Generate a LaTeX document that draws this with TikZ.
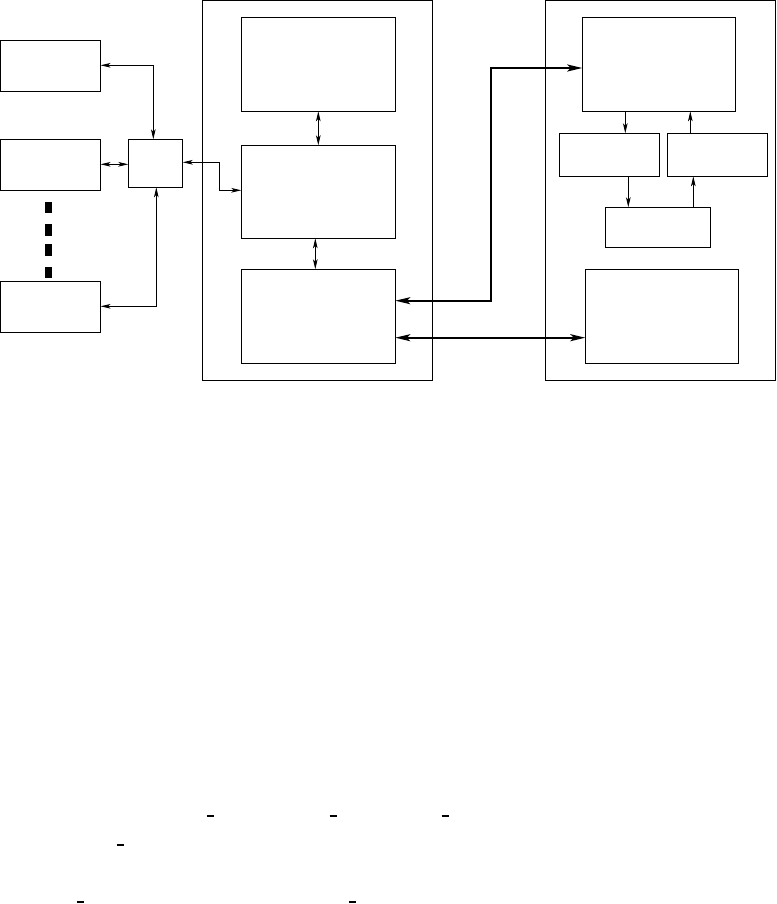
\documentclass[tikz,border=0pt]{standalone}
\usetikzlibrary{arrows.meta}
\begin{document}
\begin{tikzpicture}[x=1pt,y=-1pt,
  box/.style={draw, line width=1pt, inner sep=0pt, outer sep=0pt, anchor=north west},
  thin/.style={line width=0.9pt, {Stealth[length=10pt,width=4.6pt,inset=2.5pt]}-{Stealth[length=10pt,width=4.6pt,inset=2.5pt]}},
  thinone/.style={line width=0.9pt, -{Stealth[length=10pt,width=4.6pt,inset=2.5pt]}},
  fat/.style={line width=2pt, {Stealth[length=15pt,width=7pt,inset=3.5pt]}-{Stealth[length=15pt,width=7pt,inset=3.5pt]}},
  blockdot/.style={fill=black},
  underline/.style={line width=1.3pt}]
\useasboundingbox (0,0) rectangle (776,904);
% left column
\node[box, minimum width=100pt, minimum height=51pt] (A) at (0.5,40.3) {};
\node[box, minimum width=100pt, minimum height=51pt] (B) at (0.5,139.3) {};
\node[box, minimum width=100pt, minimum height=51pt] (C) at (0.5,281.3) {};
\node[box, minimum width=54.4pt, minimum height=48pt] (D) at (128.3,139.3) {};
\fill[blockdot] (45,202) rectangle (52,213);
\fill[blockdot] (45,224) rectangle (52,236);
\fill[blockdot] (45,244) rectangle (52,256);
\fill[blockdot] (45,267) rectangle (52,278);
% first outer block
\node[box, minimum width=230pt, minimum height=379.5pt] (O1) at (202.3,0.5) {};
\node[box, minimum width=154pt, minimum height=94pt] (E) at (241.3,17.3) {};
\node[box, minimum width=154pt, minimum height=93pt] (M) at (241.3,145.3) {};
\node[box, minimum width=154pt, minimum height=94pt] (F) at (241.3,269.3) {};
% second outer block
\node[box, minimum width=229.7pt, minimum height=379.5pt] (O2) at (545.3,0.5) {};
\node[box, minimum width=153pt, minimum height=94pt] (G) at (582.3,17.3) {};
\node[box, minimum width=100pt, minimum height=43pt] (H) at (559.3,133.3) {};
\node[box, minimum width=100pt, minimum height=43pt] (I) at (667.3,133.3) {};
\node[box, minimum width=105pt, minimum height=40pt] (J) at (605.3,207.3) {};
\node[box, minimum width=153pt, minimum height=94pt] (K) at (585.3,269.3) {};
% connector corners
\coordinate (ad) at (153.3,65.3);
\coordinate (bd) at (0,164.3);
\coordinate (cd) at (156.3,306.3);
\coordinate (dm1) at (219.3,162.3);
\coordinate (dm2) at (219.3,190.3);
\coordinate (em) at (318.3,0);
\coordinate (mf) at (315.3,0);
\coordinate (gh) at (625.3,0);
\coordinate (ig) at (690.3,0);
\coordinate (hj) at (628.3,0);
\coordinate (ji) at (693.3,0);
\coordinate (fg1) at (491.3,300.7);
\coordinate (fg2) at (491.3,68);
\coordinate (fk) at (0,337.7);
% thin connectors
\draw[thin] (A.east |- ad) -- (ad) -- (D.north -| ad);
\draw[thin] (B.east |- bd) -- (D.west |- bd);
\draw[thin] (C.east |- cd) -- (cd) -- (D.south -| cd);
\draw[thin] (D.east |- dm1) -- (dm1) -- (dm2) -- (M.west |- dm2);
\draw[thin] (E.south -| em) -- (M.north -| em);
\draw[thin] (M.south -| mf) -- (F.north -| mf);
\draw[thinone] (G.south -| gh) -- (H.north -| gh);
\draw[thinone] (I.north -| ig) -- (G.south -| ig);
\draw[thinone] (H.south -| hj) -- (J.north -| hj);
\draw[thinone] (J.north -| ji) -- (I.south -| ji);
% thick connectors
\draw[fat] (F.east |- fg1) -- (fg1) -- (fg2) -- (G.west |- fg2);
\draw[fat] (F.east |- fk) -- (K.west |- fk);
% underscores at the bottom
\draw[underline] (206.5,816) -- (213.5,816);
\draw[underline] (329.5,816) -- (336.5,816);
\draw[underline] (441.5,816) -- (448.5,816);
\draw[underline] (116.5,845) -- (123.5,845);
\draw[underline] (76.5,902) -- (83.5,902);
\draw[underline] (348.5,902) -- (355.5,902);
\end{tikzpicture}
\end{document}
